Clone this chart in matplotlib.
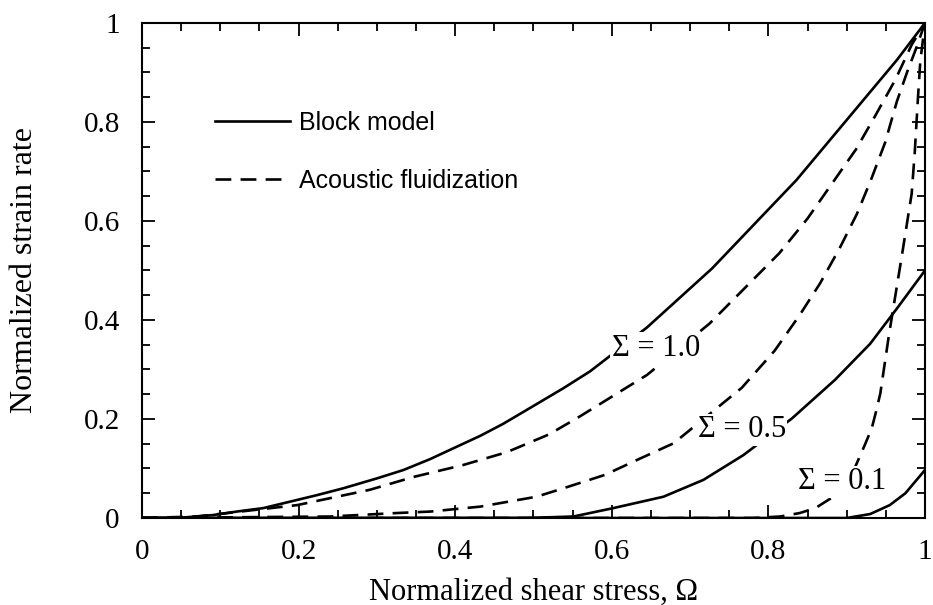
import numpy as np
import matplotlib
matplotlib.use("Agg")
import matplotlib.pyplot as plt
from matplotlib.ticker import MultipleLocator

# valores (Omega, taxa de deformacao normalizada)
# modelo de blocos - linhas cheias
block_x_10 = [0.0, 0.053, 0.091, 0.121, 0.155, 0.189, 0.223, 0.257, 0.30, 0.334,
              0.368, 0.402, 0.432, 0.461, 0.491, 0.538, 0.572, 0.645, 0.728,
              0.836, 0.90, 0.964, 1.0]
block_y_10 = [0.0, 0.001, 0.006, 0.013, 0.02, 0.033, 0.046, 0.06, 0.08, 0.097,
              0.119, 0.144, 0.166, 0.19, 0.218, 0.262, 0.296, 0.385, 0.504,
              0.683, 0.804, 0.925, 1.0]

block_x_05 = [0.0, 0.49, 0.551, 0.602, 0.666, 0.717, 0.768, 0.83, 0.885, 0.93, 0.965, 1.0]
block_y_05 = [0.0, 0.0, 0.003, 0.02, 0.043, 0.077, 0.127, 0.201, 0.279, 0.352, 0.425, 0.5]

block_x_01 = [0.0, 0.90, 0.93, 0.955, 0.975, 1.0]
block_y_01 = [0.0, 0.0, 0.008, 0.026, 0.05, 0.097]

# fluidizacao acustica - linhas tracejadas
af_x_10 = [0.0, 0.07, 0.198, 0.24, 0.291, 0.347, 0.41, 0.466, 0.496, 0.52, 0.559,
           0.645, 0.725, 0.814, 0.85, 0.881, 0.912, 0.937, 0.962, 0.983, 1.0]
af_y_10 = [0.0, 0.003, 0.026, 0.04, 0.057, 0.083, 0.107, 0.133, 0.153, 0.169, 0.205,
           0.289, 0.393, 0.535, 0.605, 0.675, 0.745, 0.814, 0.885, 0.956, 1.0]

af_x_05 = [0.0, 0.24, 0.325, 0.368, 0.432, 0.504, 0.544, 0.591, 0.636, 0.679, 0.766,
           0.808, 0.84, 0.866, 0.891, 0.913, 0.931, 0.949, 0.964, 0.977, 0.989, 1.0]
af_y_05 = [0.0, 0.003, 0.01, 0.013, 0.023, 0.043, 0.063, 0.087, 0.12, 0.151, 0.263,
           0.338, 0.41, 0.474, 0.545, 0.614, 0.683, 0.758, 0.841, 0.90, 0.95, 1.0]

af_x_01 = [0.0, 0.78, 0.815, 0.84, 0.86, 0.89, 0.91, 0.923, 0.932, 0.938, 0.943, 0.954,
           0.964, 0.971, 0.983, 0.987, 0.991, 0.994, 1.0]
af_y_01 = [0.0, 0.0, 0.003, 0.01, 0.02, 0.05, 0.10, 0.147, 0.181, 0.218, 0.252, 0.37,
           0.467, 0.535, 0.655, 0.74, 0.848, 0.922, 1.0]

rotulos = ["Σ = 1.0", "Σ = 0.5", "Σ = 0.1"]
rotulo_pos = [(0.656, 0.343), (0.766, 0.178), (0.894, 0.073)]
ticks = [0, 0.2, 0.4, 0.6, 0.8, 1.0]
tick_txt = ["0", "0.2", "0.4", "0.6", "0.8", "1"]

serif = "Liberation Serif"
sans = "Liberation Sans"

fig = plt.figure(figsize=(9.33, 6.05), dpi=100)
ax = fig.add_axes([0.1522, 0.1438, 0.8392, 0.8182])

lw = 1.9
tr = (6, 3.5)
ax.plot(block_x_10, block_y_10, color="black", lw=lw, label="Block model")
ax.plot(block_x_05, block_y_05, color="black", lw=lw)
ax.plot(block_x_01, block_y_01, color="black", lw=lw)
ax.plot(af_x_10, af_y_10, color="black", lw=lw, dashes=tr, label="Acoustic fluidization")
ax.plot(af_x_05, af_y_05, color="black", lw=lw, dashes=tr)
ax.plot(af_x_01, af_y_01, color="black", lw=lw, dashes=tr)

for txt, (tx, ty) in zip(rotulos, rotulo_pos):
    ax.text(tx, ty, txt, ha="center", va="center", fontsize=22, family=serif,
            bbox=dict(facecolor="white", edgecolor="none", pad=1))

ax.set_xlim(0, 1)
ax.set_ylim(0, 1)
ax.xaxis.set_minor_locator(MultipleLocator(0.05))
ax.yaxis.set_minor_locator(MultipleLocator(0.05))
ax.set_xticks(ticks)
ax.set_yticks(ticks)
ax.set_xticklabels(tick_txt, family=serif, fontsize=21)
ax.set_yticklabels(tick_txt, family=serif, fontsize=21)
ax.tick_params(which="both", direction="in", top=True, right=True, width=1.3)
ax.tick_params(which="major", length=9.5)
ax.tick_params(axis="x", which="major", pad=15)
ax.tick_params(axis="y", which="major", pad=16)
ax.tick_params(which="minor", length=5.5)
for s in ax.spines.values():
    s.set_linewidth(1.5)

ax.set_xlabel("Normalized shear stress, Ω", family=serif, fontsize=22, labelpad=9)
ax.set_ylabel("Normalized strain rate", family=serif, fontsize=23, labelpad=32)

leg = ax.legend(loc="upper left", bbox_to_anchor=(0.093, 0.822), frameon=False,
                prop={"family": sans, "size": 18}, handlelength=3.0,
                handletextpad=0.35, labelspacing=1.35, borderpad=0, borderaxespad=0)

fig.savefig("out.png", dpi=100)
